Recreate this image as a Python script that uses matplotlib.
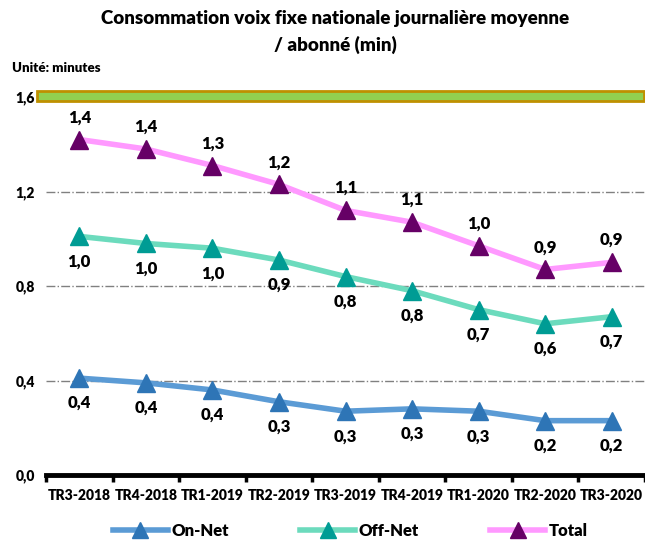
import matplotlib.pyplot as plt
from matplotlib.patches import Rectangle
from matplotlib.lines import Line2D

plt.rcParams['font.family'] = ['Lato', 'DejaVu Sans']
plt.rcParams['font.weight'] = 'heavy'

periods = ['TR3-2018', 'TR4-2018', 'TR1-2019', 'TR2-2019', 'TR3-2019',
           'TR4-2019', 'TR1-2020', 'TR2-2020', 'TR3-2020']
on_net = [0.41, 0.39, 0.36, 0.31, 0.27, 0.28, 0.27, 0.23, 0.23]
off_net = [1.01, 0.98, 0.96, 0.91, 0.84, 0.78, 0.70, 0.64, 0.67]
total = [1.42, 1.38, 1.31, 1.23, 1.12, 1.07, 0.97, 0.87, 0.90]

series = [
    ('On-Net', on_net, '#5B9BD5', '#2E75B6', 'below'),
    ('Off-Net', off_net, '#6CDBBD', '#009C94', 'below'),
    ('Total', total, '#FF99FF', '#660066', 'above'),
]


def fmt(v):
    return f'{v:.1f}'.replace('.', ',')


fig = plt.figure(figsize=(6.45, 5.42), dpi=100)
ax = fig.add_axes([46 / 645, 1 - 475 / 542, 599 / 645, 378 / 542])
x = list(range(len(periods)))

handles = []
for name, vals, lc, mc, pos in series:
    ax.plot(x, vals, color=lc, lw=4, solid_capstyle='round', zorder=3)
    ax.plot(x, vals, ls='none', marker='^', ms=13, color=mc, zorder=4)
    for xi, v in zip(x, vals):
        dy = 16 if pos == 'above' else -18
        ax.annotate(fmt(v), (xi, v), xytext=(0, dy), textcoords='offset points',
                    ha='center', va='center', fontsize=12, fontweight='heavy')
    handles.append(Line2D([], [], color=lc, lw=4, marker='^', ms=12,
                          markerfacecolor=mc, markeredgecolor=mc))

ax.set_xlim(-0.5, len(periods) - 0.5)
ax.set_ylim(0, 1.6)
ax.set_yticks([0, 0.4, 0.8, 1.2, 1.6])
ax.set_yticklabels([fmt(v) for v in [0, 0.4, 0.8, 1.2, 1.6]], fontsize=10, fontweight='heavy')
for y in [0.4, 0.8, 1.2, 1.6]:
    ax.axhline(y, color='#808080', lw=1, ls='-.', zorder=1)

ax.set_xticks(x)
ax.set_xticklabels(periods, fontsize=10, fontweight='heavy')
ax.set_xticks([i - 0.5 for i in range(len(periods) + 1)], minor=True)
ax.tick_params(axis='x', which='major', length=0, pad=10)
ax.tick_params(axis='x', which='minor', length=5, width=2.5, direction='out')
ax.tick_params(axis='y', length=0, pad=8)

for s in ['top', 'right', 'left']:
    ax.spines[s].set_visible(False)
ax.spines['bottom'].set_linewidth(3.5)

fig.patches.append(Rectangle((37 / 645, 1 - 101 / 542), 607 / 645, 10 / 542,
                             transform=fig.transFigure, facecolor='#92D050',
                             edgecolor='#BF9000', lw=2, zorder=5))

fig.text(0.52, 0.965, 'Consommation voix fixe nationale journalière moyenne',
         ha='center', va='center', fontsize=13.5, fontweight='heavy')
fig.text(0.52, 0.918, '/ abonné (min)', ha='center', va='center',
         fontsize=13.5, fontweight='heavy')
fig.text(12 / 645, 1 - 68 / 542, 'Unité: minutes', ha='left', va='center',
         fontsize=9.5, fontweight='heavy')

fig.legend(handles, [s[0] for s in series], loc='center', ncol=3,
           bbox_to_anchor=(0.543, 1 - 531 / 542), frameon=False,
           handlelength=3.3, handletextpad=0.2, columnspacing=4.3,
           prop={'weight': 'heavy', 'size': 12})

fig.savefig('out.png', dpi=100)
